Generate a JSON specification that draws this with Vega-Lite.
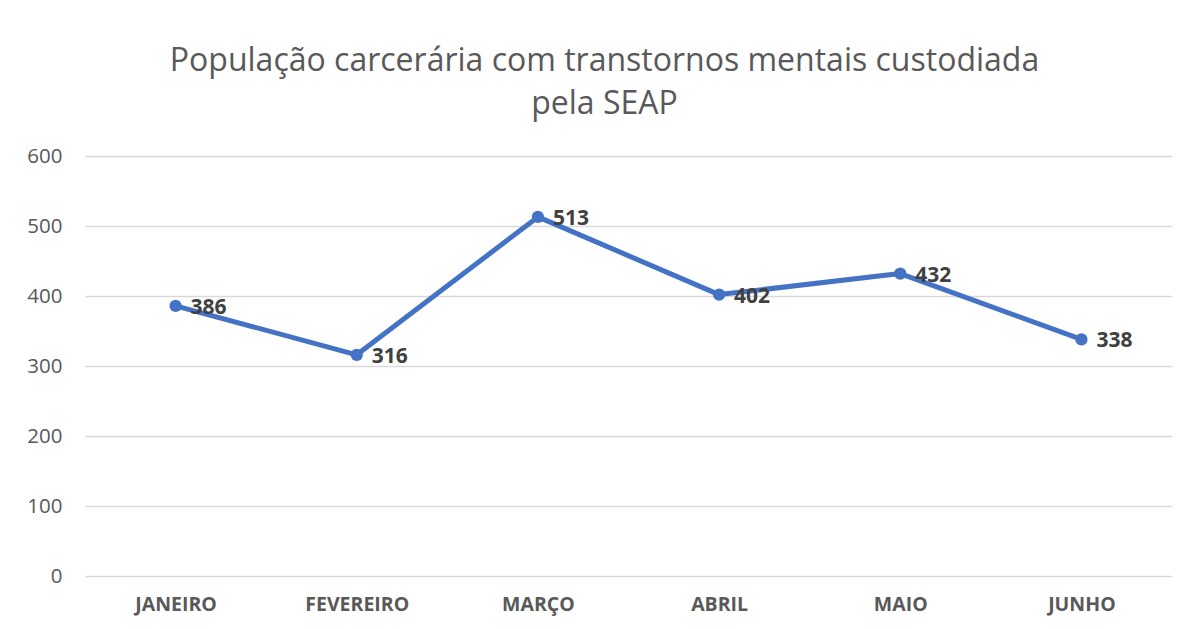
{
  "$schema": "https://vega.github.io/schema/vega-lite/v6.json",
  "autosize": {"type": "none"},
  "width": 1087,
  "height": 420,
  "padding": {"left": 85, "top": 156, "right": 17, "bottom": 53},
  "background": "white",
  "title": {
    "text": ["População carcerária com transtornos mentais custodiada", "pela SEAP"],
    "font": "Open Sans",
    "fontSize": 32,
    "fontWeight": "normal",
    "color": "#595959",
    "anchor": "middle",
    "frame": "group",
    "dx": -24,
    "offset": -7,
    "lineHeight": 43,
    "baseline": "bottom"
  },
  "data": {
    "values": [
      {"mes": "JANEIRO", "valor": 386},
      {"mes": "FEVEREIRO", "valor": 316},
      {"mes": "MARÇO", "valor": 513},
      {"mes": "ABRIL", "valor": 402},
      {"mes": "MAIO", "valor": 432},
      {"mes": "JUNHO", "valor": 338}
    ]
  },
  "encoding": {
    "x": {
      "field": "mes",
      "type": "ordinal",
      "sort": null,
      "scale": {"type": "point", "padding": 0.5},
      "axis": {
        "title": null,
        "labelAngle": 0,
        "ticks": false,
        "domain": false,
        "grid": false,
        "labelFont": "Open Sans",
        "labelFontSize": 19.5,
        "labelFontWeight": "bold",
        "labelColor": "#595959",
        "labelPadding": 19
      }
    },
    "y": {
      "field": "valor",
      "type": "quantitative",
      "scale": {"domain": [0, 600]},
      "axis": {
        "title": null,
        "values": [0, 100, 200, 300, 400, 500, 600],
        "ticks": false,
        "domain": false,
        "gridColor": "#D9D9D9",
        "gridWidth": 1.5,
        "labelFont": "Open Sans",
        "labelFontSize": 20.5,
        "labelColor": "#595959",
        "labelPadding": 23
      }
    }
  },
  "layer": [
    {"mark": {"type": "line", "color": "#4472C4", "strokeWidth": 5, "strokeCap": "round", "strokeJoin": "round"}},
    {"mark": {"type": "point", "filled": true, "color": "#4472C4", "size": 150, "opacity": 1}},
    {
      "mark": {"type": "text", "align": "left", "baseline": "middle", "dx": 15, "dy": 2, "font": "Open Sans", "fontSize": 21, "fontWeight": "bold", "color": "#404040"},
      "encoding": {"text": {"field": "valor", "type": "quantitative"}}
    }
  ],
  "config": {"view": {"stroke": null}}
}
